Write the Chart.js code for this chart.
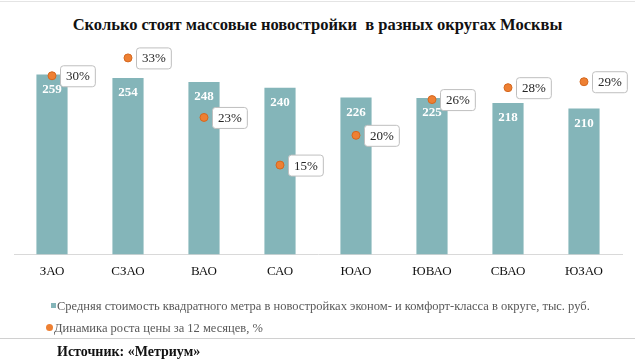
<!DOCTYPE html>
<html>
<head>
<meta charset="utf-8">
<script src="https://cdn.jsdelivr.net/npm/chart.js@4"></script>
<style>
  body { margin: 0; background: #fff; font-family: "Liberation Serif", "Times New Roman", serif; }
  #wrap { position: relative; width: 635px; height: 364px; overflow: hidden; }
  #topline { position: absolute; left: 0; top: 1px; width: 635px; height: 1px; background: #e4e4e4; }
  #title { position: absolute; left: 0; top: 15px; width: 635px; text-align: center; font-weight: bold; font-size: 16.5px; color: #111; }
  #legend { position: absolute; left: 0; top: 295px; font-size: 12.5px; color: #595959; }
  #legend div { position: relative; height: 22px; line-height: 22px; white-space: nowrap; }
  #legend span.mk { position: absolute; }
  #sep { position: absolute; left: 0; top: 338px; width: 635px; height: 1px; background: #d0d0d0; }
  #source { position: absolute; left: 57px; top: 344px; font-weight: bold; font-size: 14px; color: #111; }
  canvas { position: absolute; left: 0; top: 0; }
</style>
</head>
<body>
<div id="wrap">
  <div id="topline"></div>
  <div id="title">Сколько стоят массовые новостройки&nbsp; в разных округах Москвы</div>
  <canvas id="diagram" width="635" height="364"></canvas>
  <div id="legend"></div>
  <div id="sep"></div>
  <div id="source">Источник: «Метриум»</div>
</div>
<script>
// data
var okruga = ['ЗАО', 'СЗАО', 'ВАО', 'САО', 'ЮАО', 'ЮВАО', 'СВАО', 'ЮЗАО'];
var stoimost = [259, 254, 248, 240, 226, 225, 218, 210];
var rost = [30, 33, 23, 15, 20, 26, 28, 29];
var namaStoimost = 'Средняя стоимость квадратного метра в новостройках эконом- и комфорт-класса в округе, тыс. руб.';
var namaRost = 'Динамика роста цены за 12 месяцев, %';

var warnaBar = '#84b5b9';
var warnaTitik = '#ee8033';
var serif = '"Liberation Serif", "Times New Roman", serif';

// labels on bars and points
var labelPlugin = {
  id: 'labelPlugin',
  afterDatasetsDraw: function (chart) {
    var c = chart.ctx;
    c.save();
    var bars = chart.getDatasetMeta(0).data;
    c.font = 'bold 13px ' + serif;
    c.fillStyle = '#fff';
    c.textAlign = 'center';
    c.textBaseline = 'middle';
    bars.forEach(function (b, i) {
      c.fillText(stoimost[i], b.x, b.y + 15);
    });
    var pts = chart.getDatasetMeta(1).data;
    c.font = '13px ' + serif;
    c.textAlign = 'left';
    pts.forEach(function (p, i) {
      var txt = rost[i] + '%';
      var w = c.measureText(txt).width + 11;
      var x = p.x + 8, y = p.y - 10.5, h = 21;
      c.beginPath();
      c.roundRect(x + 0.5, y + 0.5, w, h, 3);
      c.fillStyle = '#fff';
      c.fill();
      c.strokeStyle = '#bfbfbf';
      c.lineWidth = 1;
      c.stroke();
      c.fillStyle = '#262626';
      c.fillText(txt, x + 6, p.y + 1);
    });
    c.restore();
  }
};

var ctx = document.getElementById('diagram').getContext('2d');
var grafik = new Chart(ctx, {
  type: 'bar',
  data: {
    labels: okruga,
    datasets: [{
      label: namaStoimost,
      data: stoimost,
      backgroundColor: warnaBar,
      categoryPercentage: 1,
      barPercentage: 0.41,
      yAxisID: 'y',
      order: 2
    }, {
      type: 'line',
      label: namaRost,
      data: rost,
      showLine: false,
      pointRadius: 4,
      pointBackgroundColor: warnaTitik,
      pointBorderColor: '#d5681f',
      pointBorderWidth: 1,
      yAxisID: 'y1',
      order: 1
    }]
  },
  options: {
    responsive: false,
    animation: false,
    layout: { padding: { left: 14, right: 13, top: 46, bottom: 76 } },
    plugins: {
      legend: { display: false },
      tooltip: { enabled: false }
    },
    scales: {
      x: {
        grid: { display: false, drawTicks: false },
        border: { color: '#d9d9d9', width: 1 },
        ticks: { color: '#111', padding: 9, font: { family: serif, size: 13 } }
      },
      y: { display: false, min: 0, max: 300 },
      y1: { display: false, min: 0, max: 35 }
    }
  },
  plugins: [labelPlugin]
});

// legend
document.getElementById('legend').innerHTML =
  '<div><span class="mk" style="left:51px;top:8px;width:5px;height:5px;background:' + warnaBar + '"></span>' +
  '<span style="position:absolute;left:57px">' + namaStoimost + '</span></div>' +
  '<div><span class="mk" style="left:46px;top:7px;width:7px;height:7px;border-radius:50%;background:' + warnaTitik + '"></span>' +
  '<span style="position:absolute;left:54px">' + namaRost + '</span></div>';
</script>
</body>
</html>
